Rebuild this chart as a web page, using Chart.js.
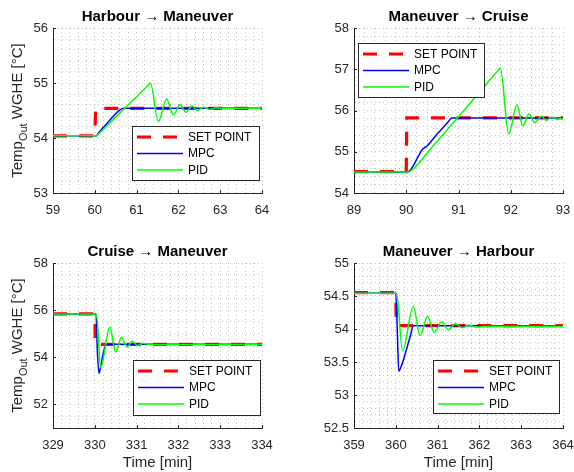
<!DOCTYPE html>
<html><head><meta charset="utf-8">
<script src="https://cdn.jsdelivr.net/npm/chart.js@4/dist/chart.umd.min.js"></script>
<style>
html,body{margin:0;padding:0;background:#fff;width:574px;height:472px;overflow:hidden}
canvas{position:absolute}
</style></head><body>
<canvas id="c1" width="287" height="236" style="left:0;top:0"></canvas>
<canvas id="c2" width="287" height="236" style="left:287px;top:0"></canvas>
<canvas id="c3" width="287" height="236" style="left:0;top:236px"></canvas>
<canvas id="c4" width="287" height="236" style="left:287px;top:236px"></canvas>
<script>
// ---------- DATA ----------
const SERIES_NAMES = ['SET POINT', 'MPC', 'PID'];
const TITLES = ['Harbour \u2192 Maneuver', 'Maneuver \u2192 Cruise', 'Cruise \u2192 Maneuver', 'Maneuver \u2192 Harbour'];
const Y_LABEL = ['Temp', 'Out', ' WGHE [\u00B0C]'];
const X_LABEL = 'Time [min]';

// Panel 1: Harbour -> Maneuver
const H2M_SP_T  = [59, 60, 60.02, 64];
const H2M_SP_V  = [54.04, 54.04, 54.54, 54.54];
const H2M_MPC_T = [59, 60.03, 60.1, 60.2, 60.32, 60.45, 60.6, 60.7, 64];
const H2M_MPC_V = [54.04, 54.04, 54.1, 54.19, 54.29, 54.4, 54.51, 54.54, 54.54];
const H2M_PID_T = [59, 60.04, 60.1, 60.5, 61.0, 61.29, 61.33, 61.52, 61.72, 61.88, 62.04, 62.18, 62.33, 62.45, 62.6, 62.75, 62.9, 63.1, 63.3, 64];
const H2M_PID_V = [54.04, 54.04, 54.08, 54.38, 54.75, 54.97, 55.0, 54.30, 54.71, 54.42, 54.61, 54.47, 54.58, 54.50, 54.56, 54.52, 54.55, 54.53, 54.54, 54.54];

// Panel 2: Maneuver -> Cruise
const M2C_SP_T  = [89, 90, 90.01, 93];
const M2C_SP_V  = [54.52, 54.52, 55.82, 55.82];
const M2C_MPC_T = [89, 90.0, 90.06, 90.13, 90.23, 90.32, 90.4, 90.5, 90.6, 90.7, 90.8, 90.87, 93];
const M2C_MPC_V = [54.51, 54.51, 54.53, 54.65, 54.89, 55.07, 55.14, 55.29, 55.44, 55.58, 55.72, 55.82, 55.82];
const M2C_PID_T = [89, 90.04, 90.15, 90.5, 91.0, 91.5, 91.77, 91.80, 91.96, 92.12, 92.23, 92.35, 92.46, 92.59, 92.68, 92.78, 92.88, 93];
const M2C_PID_V = [54.51, 54.51, 54.6, 55.12, 55.85, 56.59, 56.99, 57.03, 55.43, 56.14, 55.63, 55.92, 55.71, 55.86, 55.76, 55.84, 55.79, 55.81];

// Panel 3: Cruise -> Maneuver
const C2M_SP_T  = [329, 330, 330.01, 334];
const C2M_SP_V  = [55.84, 55.84, 54.55, 54.55];
const C2M_MPC_T = [329, 330.03, 330.06, 330.1, 330.16, 330.22, 330.28, 334];
const C2M_MPC_V = [55.84, 55.84, 54.3, 53.32, 53.8, 54.3, 54.55, 54.55];
const C2M_PID_T = [329, 330.04, 330.14, 330.36, 330.5, 330.64, 330.77, 330.9, 331.02, 331.16, 331.3, 334];
const C2M_PID_V = [55.84, 55.84, 53.56, 55.28, 54.22, 54.85, 54.43, 54.68, 54.5, 54.6, 54.54, 54.55];

// Panel 4: Maneuver -> Harbour
const M2H_SP_T  = [359, 360, 360.01, 364];
const M2H_SP_V  = [54.55, 54.55, 54.05, 54.05];
const M2H_MPC_T = [359, 360.0, 360.04, 360.07, 360.15, 360.25, 360.35, 360.42, 364];
const M2H_MPC_V = [54.54, 54.54, 53.9, 53.36, 53.47, 53.68, 53.9, 54.05, 54.05];
const M2H_PID_T = [359, 360.02, 360.16, 360.42, 360.58, 360.76, 360.92, 361.1, 361.25, 361.43, 361.59, 361.75, 361.9, 362.1, 364];
const M2H_PID_V = [54.54, 54.54, 53.67, 54.34, 53.9, 54.19, 53.95, 54.11, 53.99, 54.08, 54.02, 54.06, 54.03, 54.04, 54.04];

// Axis ranges / tick steps
const X_RANGES = [[59, 64], [89, 93], [329, 334], [359, 364]];
const Y_RANGES = [[53, 56], [54, 58], [51, 58], [52.5, 55]];
const Y_MAJOR  = [1, 1, 2, 0.5];
const Y_MINOR  = [0.2, 0.2, 0.5, 0.1];
const X_MAJOR  = 1;
const X_MINOR  = 0.2;

// ---------- LAYOUT / STYLE ----------
const FONT = '"Liberation Sans", Arial, Helvetica, sans-serif';
const AX = '#262626';
// target plot areas in canvas coordinates
const LAYOUT = [
  {id: 'c1', area: {left: 53, right: 262, top: 28, bottom: 193}, ylabel: true,  xlabel: false, legend: {x: 132, y: 126, w: 127, h: 54}},
  {id: 'c2', area: {left: 67, right: 276, top: 28, bottom: 193}, ylabel: false, xlabel: false, legend: {x: 71,  y: 43,  w: 126, h: 54}},
  {id: 'c3', area: {left: 53, right: 262, top: 27, bottom: 192}, ylabel: true,  xlabel: true,  legend: {x: 133, y: 124, w: 127, h: 55}},
  {id: 'c4', area: {left: 67, right: 276, top: 27, bottom: 192}, ylabel: false, xlabel: true,  legend: {x: 146, y: 124, w: 126, h: 53}}
];
const SERIES = [
  [[H2M_SP_T, H2M_SP_V], [H2M_MPC_T, H2M_MPC_V], [H2M_PID_T, H2M_PID_V]],
  [[M2C_SP_T, M2C_SP_V], [M2C_MPC_T, M2C_MPC_V], [M2C_PID_T, M2C_PID_V]],
  [[C2M_SP_T, C2M_SP_V], [C2M_MPC_T, C2M_MPC_V], [C2M_PID_T, C2M_PID_V]],
  [[M2H_SP_T, M2H_SP_V], [M2H_MPC_T, M2H_MPC_V], [M2H_PID_T, M2H_PID_V]]
];

function pts(T, V) { return T.map((t, i) => ({x: t, y: V[i]})); }
function isMajor(v, step) { const r = v / step; return Math.abs(r - Math.round(r)) < 1e-6; }
function fmt(v) { return String(Math.round(v * 10) / 10); }

const deco = {
  id: 'deco',
  afterDraw(chart, args, o) {
    const ctx = chart.ctx, a = chart.chartArea;
    ctx.save();
    // inward major ticks
    ctx.strokeStyle = AX; ctx.lineWidth = 1;
    const xs = chart.scales.x, ys = chart.scales.y;
    ctx.beginPath();
    xs.ticks.forEach(t => { if (isMajor(t.value, X_MAJOR)) { const px = Math.round(xs.getPixelForValue(t.value)) + 0.5; ctx.moveTo(px, a.bottom); ctx.lineTo(px, a.bottom - 3); } });
    ys.ticks.forEach(t => { if (isMajor(t.value, o.ymajor)) { const py = Math.round(ys.getPixelForValue(t.value)) + 0.5; ctx.moveTo(a.left, py); ctx.lineTo(a.left + 3, py); } });
    ctx.stroke();
    // title
    ctx.fillStyle = '#000';
    ctx.font = 'bold 15px ' + FONT;
    ctx.textAlign = 'center'; ctx.textBaseline = 'middle';
    ctx.fillText(o.title, (a.left + a.right) / 2, a.top - 11);
    // y label
    if (o.ylabel) {
      ctx.save();
      ctx.translate(22, (a.top + a.bottom) / 2);
      ctx.rotate(-Math.PI / 2);
      ctx.fillStyle = AX; ctx.textAlign = 'left'; ctx.textBaseline = 'alphabetic';
      const fM = '15px ' + FONT, fS = '11px ' + FONT;
      ctx.font = fM; const w1 = ctx.measureText(Y_LABEL[0]).width, w3 = ctx.measureText(Y_LABEL[2]).width;
      ctx.font = fS; const w2 = ctx.measureText(Y_LABEL[1]).width;
      let sx = -(w1 + w2 + w3) / 2;
      ctx.font = fM; ctx.fillText(Y_LABEL[0], sx, 0); sx += w1;
      ctx.font = fS; ctx.fillText(Y_LABEL[1], sx, 5); sx += w2;
      ctx.font = fM; ctx.fillText(Y_LABEL[2], sx, 0);
      ctx.restore();
    }
    // x label
    if (o.xlabel) {
      ctx.fillStyle = AX; ctx.font = '15px ' + FONT;
      ctx.textAlign = 'center'; ctx.textBaseline = 'middle';
      ctx.fillText(X_LABEL, (a.left + a.right) / 2, a.bottom + 35);
    }
    // legend
    const L = o.legend;
    ctx.fillStyle = '#fff'; ctx.fillRect(L.x, L.y, L.w, L.h);
    ctx.strokeStyle = AX; ctx.lineWidth = 1; ctx.setLineDash([]);
    ctx.strokeRect(L.x + 0.5, L.y + 0.5, L.w, L.h);
    chart.data.datasets.forEach((ds, i) => {
      const y = L.y + 11 + i * 16.5;
      ctx.save();
      ctx.strokeStyle = ds.borderColor; ctx.lineWidth = ds.borderWidth;
      ctx.setLineDash(ds.borderDash || []);
      ctx.beginPath(); ctx.moveTo(L.x + 5, y); ctx.lineTo(L.x + 51, y); ctx.stroke();
      ctx.restore();
      ctx.fillStyle = '#000'; ctx.font = '12px ' + FONT;
      ctx.textAlign = 'left'; ctx.textBaseline = 'middle';
      ctx.fillText(ds.label, L.x + 56, y + 0.5);
    });
    ctx.restore();
  }
};

const STYLES = [
  {borderColor: '#ff0000', borderWidth: 3.2, borderDash: [14, 12], tension: 0, order: 3},
  {borderColor: '#0000ff', borderWidth: 1.5, cubicInterpolationMode: 'monotone', order: 2},
  {borderColor: '#00ff00', borderWidth: 1.5, cubicInterpolationMode: 'monotone', order: 1}
];

LAYOUT.forEach((lay, p) => {
  const W = 287, H = 236, A = lay.area;
  const datasets = SERIES[p].map((s, i) => Object.assign({
    label: SERIES_NAMES[i], data: pts(s[0], s[1]), pointRadius: 0, fill: false, borderCapStyle: 'butt'
  }, STYLES[i]));
  const gridOpts = {color: 'rgba(38,38,38,0.27)', lineWidth: 1, drawTicks: false};
  new Chart(document.getElementById(lay.id), {
    type: 'line',
    data: {datasets},
    options: {
      responsive: false, animation: false, devicePixelRatio: 1,
      layout: {autoPadding: false, padding: {left: 0, right: W - A.right, top: A.top, bottom: 0}},
      plugins: {legend: {display: false}, tooltip: {enabled: false},
        deco: {title: TITLES[p], ylabel: lay.ylabel, xlabel: lay.xlabel, legend: lay.legend, ymajor: Y_MAJOR[p]}},
      scales: {
        x: {type: 'linear', min: X_RANGES[p][0], max: X_RANGES[p][1],
          grid: gridOpts, border: {display: true, color: AX, width: 1, dash: [1, 3]},
          ticks: {stepSize: X_MINOR, autoSkip: false, maxRotation: 0, padding: 10, color: AX,
            font: {size: 13, family: FONT},
            callback: v => isMajor(v, X_MAJOR) ? fmt(v) : ''},
          afterFit: s => { s.height = H - A.bottom; s.paddingLeft = 0; s.paddingRight = 0; }
        },
        y: {type: 'linear', min: Y_RANGES[p][0], max: Y_RANGES[p][1],
          grid: gridOpts, border: {display: true, color: AX, width: 1, dash: [1, 3]},
          ticks: {stepSize: Y_MINOR[p], autoSkip: false, padding: 5, color: AX,
            font: {size: 13, family: FONT},
            callback: v => isMajor(v, Y_MAJOR[p]) ? fmt(v) : ''},
          afterFit: s => { s.width = A.left; s.paddingTop = 0; s.paddingBottom = 0; }
        }
      }
    },
    plugins: [deco]
  });
});
</script>
</body></html>
